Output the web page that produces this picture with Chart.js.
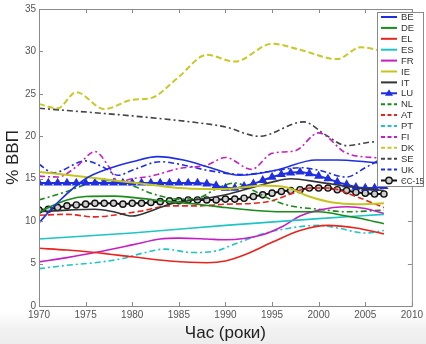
<!DOCTYPE html>
<html>
<head>
<meta charset="utf-8">
<script src="https://cdn.jsdelivr.net/npm/chart.js@4.4.1/dist/chart.umd.min.js"></script>
<style>
  html, body { margin: 0; padding: 0; background: #fff; }
  #wrap { position: relative; width: 426px; height: 344px;
          background: linear-gradient(to bottom, #fff 0, #fff 312px, #f1f1f1 330px, #ededed 344px); }
</style>
</head>
<body>
<div id="wrap"><canvas id="chart" width="426" height="344"></canvas></div>
<script>
// Дані: % ВВП по країнах, 1970-2007
const yTicks = [0, 5, 10, 15, 20, 25, 30, 35];
const xTicks = [1970, 1975, 1980, 1985, 1990, 1995, 2000, 2005, 2010];

const BE = [[1970,9.8],[1972,12.2],[1975,15.0],[1977.5,16.2],[1980,17.0],[1982.7,17.6],[1985.5,17.2],[1988.4,16.3],[1991.5,15.4],[1995.4,16.0],[1999.7,17.2],[2002,17.2],[2005,17.0],[2007,16.8]];
const DE = [[1970,11.0],[1971,11.6],[1973,12.5],[1975,12.9],[1978,12.95],[1980,12.8],[1984,12.3],[1987,12.0],[1990,11.6],[1994,11.2],[1997,11.1],[2000,11.1],[2003,10.6],[2005,10.2],[2007,9.7]];
const EL = [[1970,6.8],[1973,6.6],[1976,6.3],[1980,5.8],[1984,5.3],[1988,5.1],[1990,5.3],[1992,6.0],[1995,7.5],[1998,8.9],[2001,9.5],[2004,9.2],[2007,8.5]];
const ES = [[1970,7.9],[1980,8.6],[1990,9.5],[2000,10.3],[2007,10.8]];
const FR = [[1970,5.2],[1973,5.7],[1976,6.3],[1980,7.2],[1983,7.9],[1985,8.0],[1988,7.9],[1990,7.8],[1994,8.4],[1996,9.3],[1998,10.6],[2000,11.3],[2003,11.7],[2005,11.5],[2007,10.9]];
const IE = [[1970,15.8],[1975,15.2],[1978,14.8],[1982,14.3],[1985,13.9],[1988,13.8],[1990,13.8],[1994,14.2],[1996.5,14.0],[1999,12.9],[2001.5,12.2],[2004,12.0],[2007,12.1]];
const IT = [[1970,11.1],[1973,11.3],[1976,11.4],[1978,11.1],[1980,10.6],[1982,11.2],[1984,12.0],[1986,12.4],[1988,12.7],[1990,13.1],[1993,14.0],[1995,14.6],[1997,15.0],[2000,14.6],[2003,14.1],[2005,13.8],[2007,13.6]];
const NL = [[1970,12.5],[1973,13.5],[1975,14.3],[1977.5,14.8],[1980,14.2],[1982,13.3],[1985,12.6],[1987,12.7],[1989,13.8],[1991,14.5],[1993,13.6],[1995,12.5],[1997,11.8],[2000,11.4],[2003,11.1],[2007,11.3]];
const AT = [[1970,10.7],[1973,10.8],[1976,10.5],[1978,10.7],[1981,11.2],[1984,11.8],[1987,11.8],[1990,12.0],[1993,12.1],[1995,12.4],[1997,13.2],[1999,13.9],[2001,13.9],[2004,12.9],[2007,11.6]];
const PT = [[1970,4.4],[1973,4.8],[1976,5.1],[1979,5.6],[1981,6.2],[1983.5,6.7],[1986.5,6.3],[1989,6.5],[1991,7.3],[1994,8.5],[1997,9.2],[2000,9.5],[2002,9.2],[2005,8.6],[2007,8.9]];
const FI = [[1970,15.3],[1972,15.2],[1974,16.4],[1976,18.2],[1977.5,16.4],[1978.5,14.6],[1980,15.0],[1982,15.3],[1985,16.2],[1988,16.6],[1990,17.5],[1992.8,16.1],[1995,18.0],[1997.5,18.3],[2000,20.4],[2003,18.0],[2007,17.4]];
const DK = [[1970,23.8],[1972,23.3],[1974,25.2],[1977,23.2],[1980,24.3],[1982,24.5],[1985,27.0],[1988,29.6],[1991,28.8],[1995,30.9],[1998,30.2],[2002,29.1],[2004.5,30.5],[2007,30.0]];
const SE = [[1970,23.3],[1980,22.4],[1987,21.6],[1990,21.1],[1993.6,20.0],[1998.4,21.7],[2000.7,20.2],[2003,18.9],[2005.5,19.3],[2007,19.4]];
const UK = [[1970,16.7],[1971.5,15.7],[1975,17.1],[1977,16.3],[1978.5,15.4],[1980,16.0],[1983,17.0],[1986,16.5],[1988,16.0],[1992,15.5],[1995,15.9],[1998,16.3],[2000,16.0],[2003,15.2],[2005,16.3],[2007,17.5]];

// щорічні точки (з маркерами)
const years = [1970,1971,1972,1973,1974,1975,1976,1977,1978,1979,1980,1981,1982,1983,1984,1985,1986,1987,1988,1989,1990,1991,1992,1993,1994,1995,1996,1997,1998,1999,2000,2001,2002,2003,2004,2005,2006,2007];
const LU = [14.5,14.5,14.5,14.5,14.5,14.5,14.5,14.5,14.5,14.5,14.5,14.5,14.5,14.5,14.5,14.5,14.5,14.5,14.4,14.2,13.9,13.9,14.1,14.4,14.8,15.2,15.5,15.7,15.8,15.6,15.3,15.0,14.6,14.3,14.0,13.9,13.9,14.1];
const EU15 = [11.3,11.4,11.6,11.8,11.9,12.0,12.1,12.1,12.1,12.0,12.1,12.1,12.2,12.3,12.4,12.4,12.5,12.5,12.5,12.5,12.6,12.6,12.7,12.9,13.1,13.3,13.5,13.6,13.7,13.9,13.9,13.9,13.7,13.6,13.4,13.3,13.2,13.2];

const BLUE = '#1f2fe0', GREEN = '#1a8a1a', RED = '#e8241f', CYAN = '#1fc4c4',
      MAGENTA = '#c41fc4', OLIVE = '#c4c41f';
const DASH = [6, 3], DASHDOT = [6, 3, 2, 3];

const pairs = arr => arr.map(p => ({x: p[0], y: p[1]}));
const yearly = vals => vals.map((v, i) => ({x: years[i], y: v}));

function line(label, data, color, dash, extra) {
    return Object.assign({
        label: label,
        data: data,
        borderColor: color,
        backgroundColor: color,
        borderWidth: 1.6,
        borderDash: dash || [],
        pointRadius: 0,
        cubicInterpolationMode: 'monotone',
        fill: false
    }, extra || {});
}

const datasets = [
    line('BE', pairs(BE), BLUE),
    line('DE', pairs(DE), GREEN),
    line('EL', pairs(EL), RED),
    line('ES', pairs(ES), CYAN),
    line('FR', pairs(FR), MAGENTA),
    line('IE', pairs(IE), OLIVE, null, {borderWidth: 2}),
    line('IT', pairs(IT), '#333333'),
    line('LU', yearly(LU), BLUE, null, {pointStyle: 'triangle', pointRadius: 3.3, borderWidth: 2}),
    line('NL', pairs(NL), GREEN, DASHDOT),
    line('AT', pairs(AT), RED, DASH),
    line('PT', pairs(PT), CYAN, DASHDOT),
    line('FI', pairs(FI), MAGENTA, DASHDOT),
    line('DK', pairs(DK), '#c8c828', DASH, {borderWidth: 2}),
    line('SE', pairs(SE), '#444444', DASHDOT),
    line('UK', pairs(UK), BLUE, DASHDOT),
    line('ЄС-15', yearly(EU15), '#111111', null, {pointStyle: 'circle', pointRadius: 3.1, borderWidth: 2, pointBackgroundColor: '#cfcfcf', pointBorderWidth: 1.4})
];

// біле поле графіка + рамка з внутрішніми рисками (як у MATLAB)
const framePlugin = {
    id: 'frame',
    beforeDraw(chart) {
        const {ctx, chartArea: a} = chart;
        ctx.save();
        ctx.fillStyle = '#fff';
        ctx.fillRect(a.left, a.top, a.right - a.left, a.bottom - a.top);
        ctx.restore();
    },
    afterDatasetsDraw(chart) {
        const {ctx, chartArea: a, scales} = chart;
        ctx.save();
        ctx.strokeStyle = '#8a8a8a';
        ctx.lineWidth = 1;
        ctx.strokeRect(a.left + 0.5, a.top + 0.5, a.right - a.left, a.bottom - a.top);
        ctx.beginPath();
        xTicks.forEach(t => {
            const x = Math.round(scales.x.getPixelForValue(t)) + 0.5;
            ctx.moveTo(x, a.bottom); ctx.lineTo(x, a.bottom - 4);
            ctx.moveTo(x, a.top); ctx.lineTo(x, a.top + 4);
        });
        yTicks.forEach(t => {
            const y = Math.round(scales.y.getPixelForValue(t)) + 0.5;
            ctx.moveTo(a.left, y); ctx.lineTo(a.left + 4, y);
            ctx.moveTo(a.right, y); ctx.lineTo(a.right - 4, y);
        });
        ctx.stroke();
        ctx.restore();
    }
};

// легенда в рамці праворуч
const legendPlugin = {
    id: 'boxLegend',
    afterDraw(chart) {
        const ctx = chart.ctx;
        const bx = 377, by = 12, bw = 47, bh = 174, step = 10.9;
        ctx.save();
        ctx.fillStyle = '#fff';
        ctx.fillRect(bx, by, bw, bh);
        ctx.strokeStyle = '#8a8a8a';
        ctx.lineWidth = 1;
        ctx.strokeRect(bx + 0.5, by + 0.5, bw - 1, bh);
        chart.data.datasets.forEach((ds, i) => {
            const y = by + 5 + i * step;
            ctx.strokeStyle = ds.borderColor;
            ctx.lineWidth = 2;
            ctx.setLineDash(ds.borderDash.length ? [4, 2.5] : []);
            ctx.beginPath();
            ctx.moveTo(381, y); ctx.lineTo(397, y);
            ctx.stroke();
            ctx.setLineDash([]);
            if (ds.pointStyle === 'triangle') {
                ctx.fillStyle = ds.borderColor;
                ctx.beginPath();
                ctx.moveTo(389, y - 4); ctx.lineTo(393, y + 2.5); ctx.lineTo(385, y + 2.5);
                ctx.closePath(); ctx.fill();
            } else if (ds.pointStyle === 'circle') {
                ctx.fillStyle = '#cfcfcf';
                ctx.lineWidth = 1.4;
                ctx.beginPath();
                ctx.arc(389, y, 3.2, 0, Math.PI * 2);
                ctx.fill(); ctx.stroke();
            }
            ctx.fillStyle = '#333';
            ctx.font = '9.5px "Liberation Sans", Arial, sans-serif';
            ctx.textBaseline = 'middle';
            ctx.fillText(ds.label, 401, y + 0.5, 23);
        });
        ctx.restore();
    }
};

const tickFont = {family: '"Liberation Sans", Arial, sans-serif', size: 10};
const titleFont = {family: '"Liberation Sans", Arial, sans-serif', size: 17};

new Chart(document.getElementById('chart'), {
    type: 'line',
    data: {datasets: datasets},
    options: {
        responsive: false,
        animation: false,
        layout: {padding: {top: 9, right: 10, left: 0, bottom: 0}},
        plugins: {
            legend: {display: false},
            tooltip: {enabled: false}
        },
        scales: {
            x: {
                type: 'linear',
                min: 1970,
                max: 2010,
                afterBuildTicks: s => { s.ticks = xTicks.map(v => ({value: v})); },
                afterFit: s => { s.height = 38; },
                grid: {display: false, drawTicks: false},
                border: {display: false},
                ticks: {font: tickFont, color: '#555', padding: 3, maxRotation: 0, callback: v => String(v)},
                title: {display: true, text: 'Час (роки)', font: titleFont, color: '#222', padding: {top: 2, bottom: 0}}
            },
            y: {
                min: 0,
                max: 35,
                afterBuildTicks: s => { s.ticks = yTicks.map(v => ({value: v})); },
                afterFit: s => { s.width = 39; },
                grid: {display: false, drawTicks: false},
                border: {display: false},
                ticks: {font: tickFont, color: '#555', padding: 3},
                title: {display: true, text: '% ВВП', font: titleFont, color: '#222', padding: {top: 3, bottom: 0}}
            }
        }
    },
    plugins: [framePlugin, legendPlugin]
});
</script>
</body>
</html>
